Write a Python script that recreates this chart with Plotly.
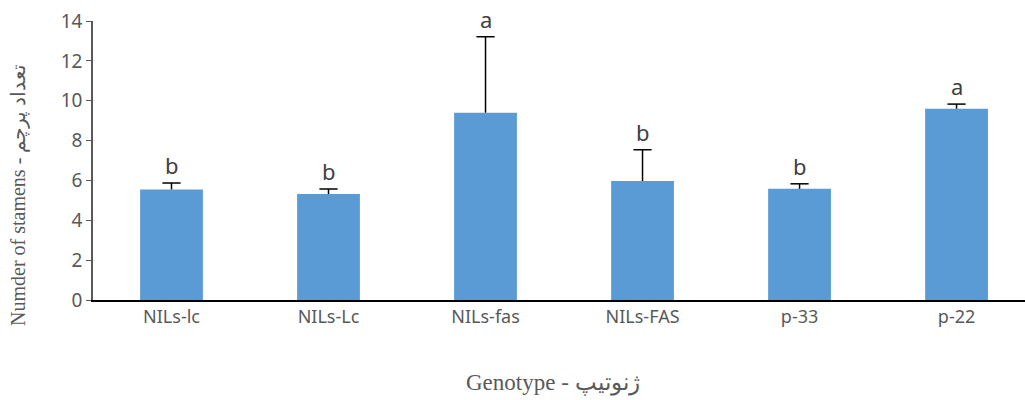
import plotly.graph_objects as go

categories = ["NILs-lc", "NILs-Lc", "NILs-fas", "NILs-FAS", "p-33", "p-22"]
means = [5.55, 5.32, 9.40, 5.97, 5.58, 9.60]
errors = [0.32, 0.25, 3.81, 1.57, 0.25, 0.23]
letters = ["b", "b", "a", "b", "b", "a"]
y_ticks = [0, 2, 4, 6, 8, 10, 12, 14]

tops = [m + e for m, e in zip(means, errors)]

fig = go.Figure()
fig.add_trace(go.Bar(
    x=categories, y=means,
    marker=dict(color="#5B9BD5", line=dict(width=0)),
    width=0.4,
))
# error bars: stems (no caps) plus a cap marker at the top only
fig.add_trace(go.Scatter(
    x=categories, y=tops, mode="markers",
    marker=dict(symbol="line-ew", size=13, line=dict(color="#000000", width=1.5)),
    error_y=dict(type="data", symmetric=False, array=[0] * len(errors), arrayminus=errors,
                 visible=True, color="#000000", thickness=1.5, width=0),
))

for c, t, l in zip(categories, tops, letters):
    fig.add_annotation(x=c, y=t, text=l, showarrow=False,
                       yanchor="bottom", yshift=1,
                       font=dict(family="Noto Sans", size=22, color="#404040"))

PL, PW, PT, PH = 93, 932, 21, 279
fig.add_annotation(xref="paper", yref="paper", x=(18 - PL) / PW, y=(300 - 195) / PH,
                   text="Numder of stamens - تعداد پرچم", textangle=-90, showarrow=False,
                   xanchor="center", yanchor="middle",
                   font=dict(family="Liberation Serif", size=20, color="#595959"))
fig.add_annotation(xref="paper", yref="paper", x=(553 - PL) / PW, y=(300 - 383) / PH,
                   text="Genotype - ژنوتیپ", showarrow=False,
                   xanchor="center", yanchor="middle",
                   font=dict(family="Liberation Serif", size=23, color="#595959"))

fig.update_layout(
    width=1025, height=400,
    margin=dict(l=PL, r=0, t=PT, b=400 - PT - PH),
    plot_bgcolor="white", paper_bgcolor="white",
    showlegend=False,
    xaxis=dict(range=[-0.5, 5.436], showline=True, linecolor="#000000", linewidth=1.5,
               ticks="", showgrid=False,
               tickfont=dict(family="Noto Sans", size=18, color="#595959")),
    yaxis=dict(range=[0, 14], tickvals=y_ticks, showline=True, linecolor="#595959", linewidth=1.5,
               ticks="outside", ticklen=5, tickcolor="#595959", showgrid=False, zeroline=False,
               tickfont=dict(family="Noto Sans", size=19, color="#595959")),
)

fig.write_html("out.html", config={"displayModeBar": False},
               post_script="document.body.style.margin='0';")
